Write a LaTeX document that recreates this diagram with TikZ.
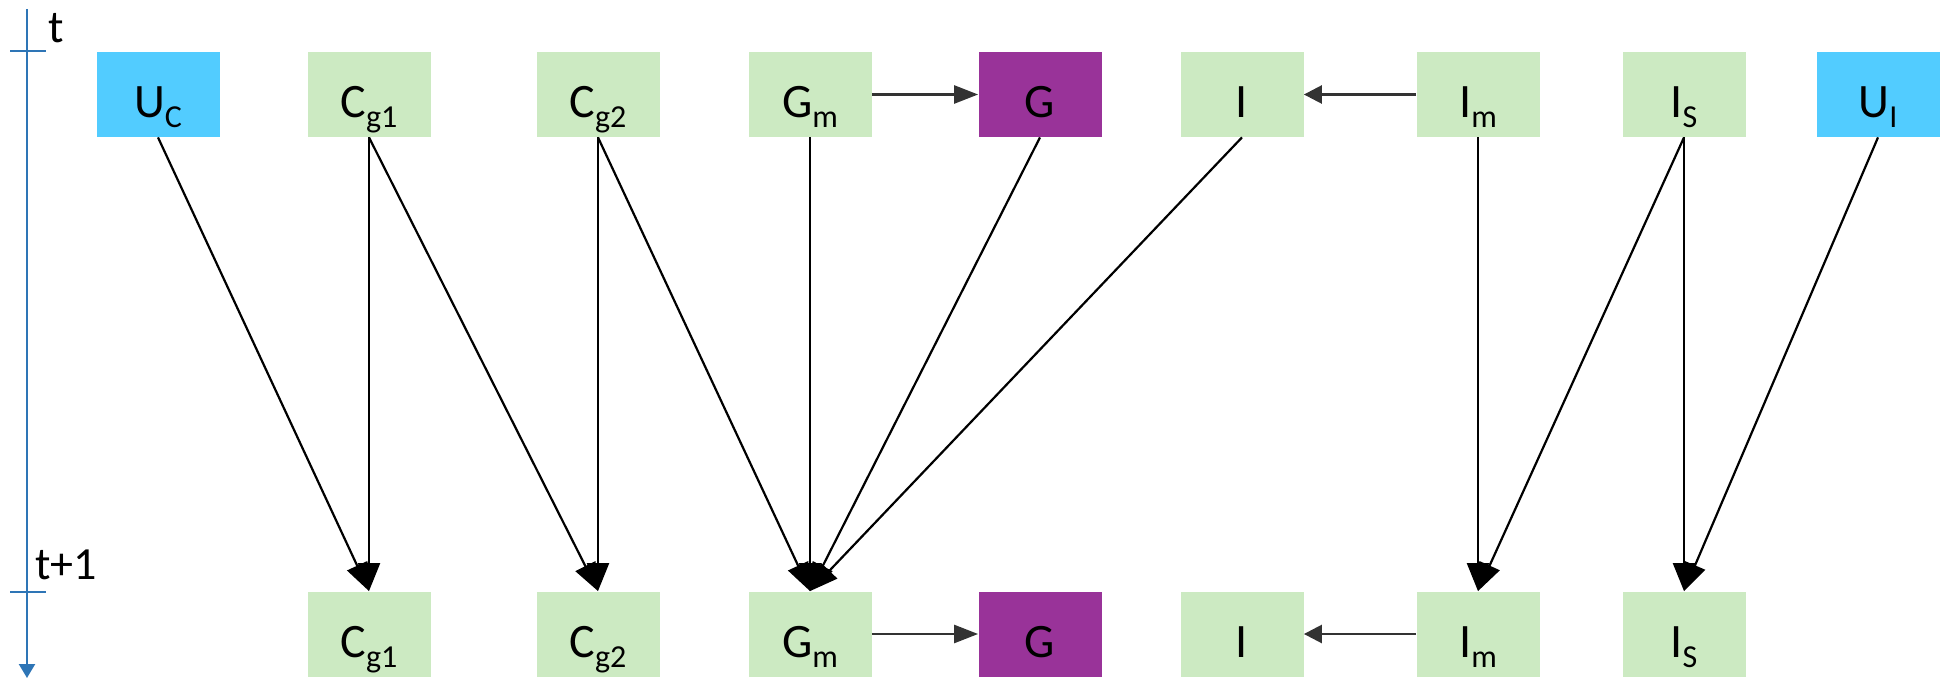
\documentclass[tikz,border=0pt]{standalone}
\usepackage{fontspec}
\setmainfont{Carlito}
\usetikzlibrary{arrows.meta}
\definecolor{boxgreen}{RGB}{204,234,194}
\definecolor{boxblue}{RGB}{82,204,255}
\definecolor{boxpurple}{RGB}{153,51,153}
\definecolor{axisblue}{RGB}{46,117,182}
\newcommand\subt[1]{\raisebox{-5pt}{\fontsize{16}{16}\selectfont #1}}
\tikzset{
  box/.style={rectangle, draw=none, inner sep=0pt, minimum width=61.5pt, minimum height=42.5pt,
    text height=23.5pt, text depth=0pt, font=\fontsize{24}{24}\selectfont},
  gbox/.style={box, fill=boxgreen},
  bbox/.style={box, fill=boxblue},
  pbox/.style={box, fill=boxpurple},
  arr/.style={-{Triangle[length=14pt,width=11pt]}, line width=1.1pt, draw=black},
  harr/.style={-{Triangle[length=12pt,width=9pt]}, line width=1.3pt, draw=black!80},
  sarr/.style={-{Triangle[length=9pt,width=9pt]}, line width=1.3pt, draw=black!80},
  axis/.style={line width=1.2pt, draw=axisblue},
  axlabel/.style={anchor=base west, inner sep=0pt, font=\fontsize{23}{23}\selectfont}
}
\begin{document}
\begin{tikzpicture}[x=0.5pt,y=-0.5pt]
\useasboundingbox (0,0) rectangle (1950,690);
% axis
\coordinate (axtop) at (27,9);
\coordinate (axbot) at (27,678);
\draw[axis,-{Triangle[length=7pt,width=8pt]}] (axtop) -- (axbot);
\coordinate (tk1a) at (10,51); \coordinate (tk1b) at (46,51);
\coordinate (tk2a) at (10,592); \coordinate (tk2b) at (46,592);
\draw[axis] (tk1a) -- (tk1b);
\draw[axis] (tk2a) -- (tk2b);
\node[axlabel] (lt) at (48,43) {t};
\node[axlabel] (lt1) at (35,579) {t+1};
% top row
\node[bbox] (Uc)  at (158,94.5) {U\subt{C}};
\node[gbox] (Cga) at (369,94.5) {C\subt{g1}};
\node[gbox] (Cgb) at (598,94.5) {C\subt{g2}};
\node[gbox] (Gm)  at (810,94.5) {G\subt{m}};
\node[pbox] (G)   at (1040,94.5) {G};
\node[gbox] (I)   at (1242,94.5) {I};
\node[gbox] (Im)  at (1478,94.5) {I\subt{m}};
\node[gbox] (Is)  at (1684,94.5) {I\subt{S}};
\node[bbox] (Ui)  at (1878,94.5) {U\subt{I}};
% bottom row
\node[gbox] (Cga2) at (369,634) {C\subt{g1}};
\node[gbox] (Cgb2) at (598,634) {C\subt{g2}};
\node[gbox] (Gm2)  at (810,634) {G\subt{m}};
\node[pbox] (G2)   at (1040,634) {G};
\node[gbox] (I2)   at (1242,634) {I};
\node[gbox] (Im2)  at (1478,634) {I\subt{m}};
\node[gbox] (Is2)  at (1684,634) {I\subt{S}};
% horizontal arrows
\draw[harr] (Gm) -- (G);
\draw[sarr] (Im) -- (I);
\draw[harr] (Gm2) -- (G2);
\draw[sarr] (Im2) -- (I2);
% vertical / diagonal arrows
\draw[arr] (Uc.south) -- (Cga2.north);
\draw[arr] (Cga.south) -- (Cga2.north);
\draw[arr] (Cga.south) -- (Cgb2.north);
\draw[arr] (Cgb.south) -- (Cgb2.north);
\draw[arr] (Cgb.south) -- (Gm2.north);
\draw[arr] (Gm.south) -- (Gm2.north);
\draw[arr] (G.south) -- (Gm2.north);
\draw[arr] (I.south) -- (Gm2.north);
\draw[arr] (Im.south) -- (Im2.north);
\draw[arr] (Is.south) -- (Im2.north);
\draw[arr] (Is.south) -- (Is2.north);
\draw[arr] (Ui.south) -- (Is2.north);
\end{tikzpicture}
\end{document}
